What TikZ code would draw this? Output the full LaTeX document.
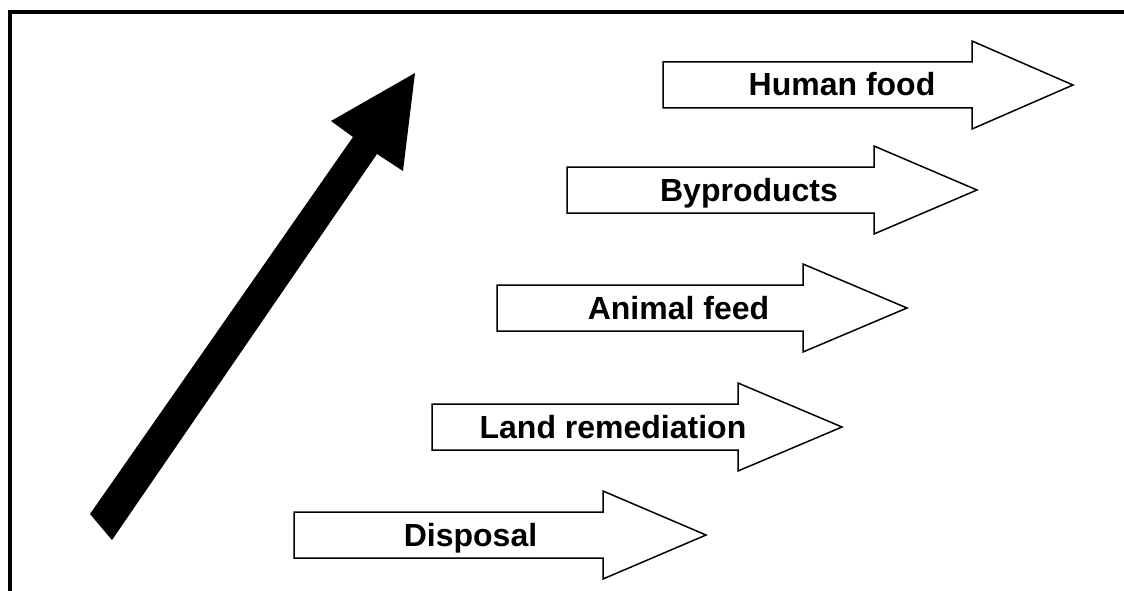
\documentclass[tikz,border=0pt]{standalone}
\usepackage{fontspec}
\setmainfont{Liberation Sans}
\begin{document}
\begin{tikzpicture}[x=1pt,y=-1pt,
  blockout/.style={draw=black,fill=white,line width=1.5pt,line join=miter},
  bigarrow/.style={fill=black,draw=none},
  frameline/.style={draw=black,line width=4pt},
  lbl/.style={font=\fontsize{32}{38}\selectfont\bfseries,inner sep=0pt,anchor=base}]
\useasboundingbox (0,0) rectangle (1124,591);
\clip (0,0) rectangle (1124,591);
% frame (extends past right and bottom edges)
\coordinate (fbl) at (9.5,600);
\coordinate (ftl) at (9.5,12.5);
\coordinate (ftr) at (1130,12.5);
\draw[frameline] (fbl) -- (ftl) -- (ftr);
% big rising arrow
\fill[bigarrow] (90,514) -- (353,137) -- (331,121) -- (415,73) -- (403,171) -- (377,154) -- (112,540) -- cycle;
% block arrows: #1 left x, #2 junction x, #3 tip x, #4 centre y
\newcommand\myblockarrow[4]{%
  \draw[blockout] (#1,#4-23) -- (#2,#4-23) -- (#2,#4-44) -- (#3,#4) -- (#2,#4+44) -- (#2,#4+23) -- (#1,#4+23) -- cycle;}
\myblockarrow{294}{603}{706}{535}
\myblockarrow{432}{738}{842}{427}
\myblockarrow{497}{803}{907}{308}
\myblockarrow{567}{874}{977}{190}
\myblockarrow{663}{972}{1073}{85}
\node[lbl] (disp) at (470.5,546) {Disposal};
\node[lbl] (land) at (613,438) {Land remediation};
\node[lbl] (feed) at (678.5,319) {Animal feed};
\node[lbl] (byp) at (749,201) {Byproducts};
\node[lbl] (food) at (842,96) {Human food};
\end{tikzpicture}
\end{document}
